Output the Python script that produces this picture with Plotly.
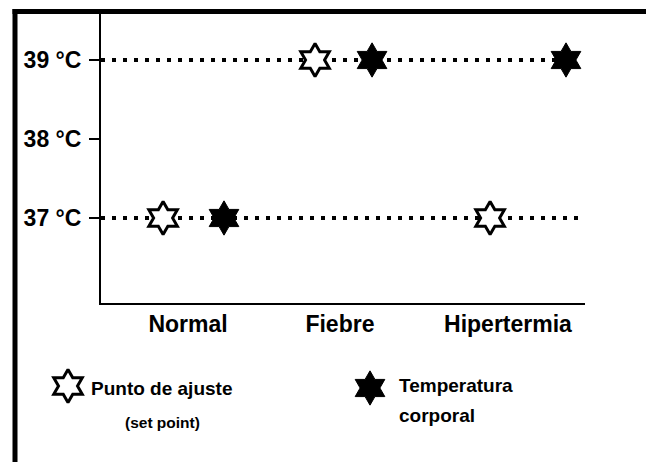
import plotly.graph_objects as go

# ---- data ----
categories = ["Normal", "Fiebre", "Hipertermia"]
set_point = [37, 39, 37]          # Punto de ajuste (set point)
body_temp = [37, 39, 39]          # Temperatura corporal
y_ticks = [37, 38, 39]
y_tick_labels = ["37 °C", "38 °C", "39 °C"]
legend_set_point = ["Punto de ajuste", "(set point)"]
legend_body_temp = ["Temperatura", "corporal"]

# ---- layout positions ----
W, H = 654, 462
OFF = 8            # page body margin: design in screen pixels, shift into figure pixels
X_MAX = 484 / 150
group_x = [0.617, 1.617, 2.847]
half_gap = [0.203, 0.19, 0.253]
label_x = [0.58, 1.593, 2.713]

FONT = "Liberation Sans Narrow, Arial Narrow, Liberation Sans, Arial, sans-serif"


def px(v):
    return v - OFF


sp_x = [g - h for g, h in zip(group_x, half_gap)]
bt_x = [g + h for g, h in zip(group_x, half_gap)]

fig = go.Figure()

# dotted reference lines at each level that has markers
levels = sorted(set(set_point + body_temp))
for lv in levels:
    xs_at = [x for x, v in zip(sp_x + bt_x, set_point + body_temp) if v == lv]
    end = X_MAX if lv == min(levels) else max(xs_at)
    fig.add_shape(type="line", xref="x", yref="y", x0=0, x1=end, y0=lv, y1=lv,
                  line=dict(color="black", width=4, dash="4px,7px"), layer="below")

star_open = dict(symbol="hexagram", size=25, color="white", line=dict(color="black", width=3))
star_fill = dict(symbol="hexagram", size=26, color="black", line=dict(color="black", width=1))

fig.add_trace(go.Scatter(x=sp_x, y=set_point, mode="markers", marker=star_open,
                         name="Punto de ajuste", showlegend=False, cliponaxis=False))
fig.add_trace(go.Scatter(x=bt_x, y=body_temp, mode="markers", marker=star_fill,
                         name="Temperatura corporal", showlegend=False, cliponaxis=False))

# legend markers on a full-figure overlay axis (pixel units)
fig.add_trace(go.Scatter(x=[px(68)], y=[px(386)], mode="markers", marker=star_open,
                         xaxis="x2", yaxis="y2", showlegend=False, hoverinfo="skip"))
fig.add_trace(go.Scatter(x=[px(370)], y=[px(388)], mode="markers", marker=star_fill,
                         xaxis="x2", yaxis="y2", showlegend=False, hoverinfo="skip"))

ann_font = dict(family=FONT, size=19, color="black", weight="bold")
annotations = [
    dict(x=px(89), y=px(388), text=legend_set_point[0], xanchor="left", yanchor="middle",
         font=ann_font),
    dict(x=px(162), y=px(422), text=legend_set_point[1], xanchor="center", yanchor="middle",
         font=dict(family=FONT, size=15.5, color="black", weight="bold")),
    dict(x=px(397), y=px(385), text=legend_body_temp[0], xanchor="left", yanchor="middle",
         font=ann_font),
    dict(x=px(397), y=px(415), text=legend_body_temp[1], xanchor="left", yanchor="middle",
         font=ann_font),
]
for a in annotations:
    a.update(xref="x2", yref="y2", showarrow=False)

# frame borders (left and top)
fig.add_shape(type="line", xref="x2", yref="y2", x0=px(15), x1=px(15), y0=px(9), y1=H,
              line=dict(color="black", width=5))
fig.add_shape(type="line", xref="x2", yref="y2", x0=px(12.5), x1=W, y0=px(11.5), y1=px(11.5),
              line=dict(color="black", width=5))

y_top, y_bot = 13, 303
x_left, x_right = 101, 585
fig.update_layout(
    width=W, height=H,
    margin=dict(l=0, r=0, t=0, b=0),
    paper_bgcolor="white",
    plot_bgcolor="rgba(0,0,0,0)",
    annotations=annotations,
    font=dict(family=FONT, color="black"),
    xaxis=dict(domain=[px(x_left) / W, px(x_right) / W], range=[0, X_MAX], anchor="y",
               tickmode="array", tickvals=label_x, ticktext=categories,
               ticks="", showline=True, linecolor="black", linewidth=2,
               showgrid=False, zeroline=False, ticklabelstandoff=-1,
               tickfont=dict(family=FONT, size=23, color="black", weight="bold")),
    yaxis=dict(domain=[(H - px(y_bot)) / H, (H - px(y_top)) / H],
               range=[37 - (y_bot - 218) / 79, 39 + (60 - y_top) / 79], anchor="x",
               tickmode="array", tickvals=y_ticks, ticktext=y_tick_labels,
               ticks="outside", ticklen=10, tickwidth=2, tickcolor="black",
               showline=True, linecolor="black", linewidth=2,
               showgrid=False, zeroline=False, ticklabelstandoff=3,
               tickfont=dict(family=FONT, size=23, color="black", weight="bold")),
    xaxis2=dict(domain=[0, 1], range=[0, W], anchor="y2", visible=False),
    yaxis2=dict(domain=[0, 1], range=[H, 0], anchor="x2", visible=False),
)

fig.write_html("out.html")
